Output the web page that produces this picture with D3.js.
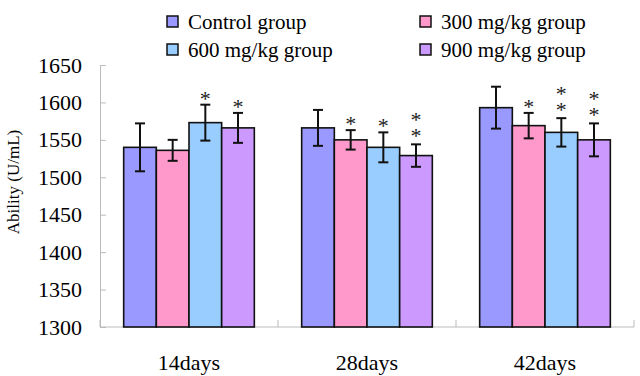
<!DOCTYPE html>
<html>
<head>
<meta charset="utf-8">
<script src="https://cdn.jsdelivr.net/npm/d3@7"></script>
<style>
  body { margin: 0; background: #fff; }
</style>
</head>
<body>
<div id="chart"></div>
<script>
// data
var days = ["14days", "28days", "42days"];
var groups = ["Control group", "300 mg/kg group", "600 mg/kg group", "900 mg/kg group"];
var colors = ["#9999ff", "#ff99cc", "#99ccff", "#cc99ff"];
var means = [
    [1540, 1536, 1573, 1566],
    [1566, 1550, 1540, 1529],
    [1593, 1569, 1560, 1550]
];
var errs = [
    [32, 14, 24, 20],
    [24, 13, 20, 15],
    [28, 17, 19, 22]
];
// number of asterisks above each bar
var stars = [
    [0, 0, 1, 1],
    [0, 1, 1, 2],
    [0, 1, 2, 2]
];
var yTicks = [1300, 1350, 1400, 1450, 1500, 1550, 1600, 1650];

var svgWidth = 640;
var svgHeight = 376;
var margin = { top: 65, right: 6, bottom: 49, left: 100 };
var width = svgWidth - margin.left - margin.right;
var height = svgHeight - margin.top - margin.bottom;
var serif = "\"Liberation Serif\"";

var svg = d3.select("#chart")
    .append("svg")
    .attr("width", svgWidth)
    .attr("height", svgHeight);

var chartGroup = svg.append("g")
    .attr("transform", `translate(${margin.left}, ${margin.top})`);

// scales
var x0 = d3.scaleBand().domain(days).range([0, width]);
var x1 = d3.scaleBand().domain(groups)
    .range([x0.bandwidth() * 0.133, x0.bandwidth() * 0.867]);
var y = d3.scaleLinear().domain([1300, 1650]).range([height, 0]);

// y axis, ticks pointing inward
var leftAxis = d3.axisLeft(y)
    .tickValues(yTicks)
    .tickSizeInner(-6)
    .tickSizeOuter(0)
    .tickPadding(18)
    .tickFormat(d3.format("d"));

var yAxisG = chartGroup.append("g").call(leftAxis);
yAxisG.select(".domain").attr("stroke", "#bbb");
yAxisG.selectAll(".tick line").attr("stroke", "#bbb");
yAxisG.selectAll("text")
    .attr("font-size", "22px")
    .attr("fill", "#000")
    .style("font-family", serif);

// x axis line + category separator ticks
chartGroup.append("line")
    .attr("x1", 0).attr("x2", width)
    .attr("y1", height).attr("y2", height)
    .attr("stroke", "#bbb");

var bounds = days.map(d => x0(d)).concat([width]);
chartGroup.selectAll(".sep")
    .data(bounds)
    .enter()
    .append("line")
    .attr("x1", d => d).attr("x2", d => d)
    .attr("y1", height).attr("y2", height - 7)
    .attr("stroke", "#bbb");

var bottomAxis = d3.axisBottom(x0).tickSize(0).tickPadding(27);
var xAxisG = chartGroup.append("g")
    .attr("transform", `translate(0, ${height})`)
    .call(bottomAxis);
xAxisG.select(".domain").remove();
xAxisG.selectAll("text")
    .attr("font-size", "22px")
    .attr("fill", "#000")
    .style("font-family", serif);

// flatten data for drawing
var rows = [];
days.forEach(function(day, i) {
    groups.forEach(function(g, j) {
        rows.push({ day: day, group: g, j: j, v: means[i][j], e: errs[i][j], s: stars[i][j] });
    });
});

// bars
chartGroup.selectAll(".bar")
    .data(rows)
    .enter()
    .append("rect")
    .attr("x", d => x0(d.day) + x1(d.group))
    .attr("y", d => y(d.v))
    .attr("width", x1.bandwidth())
    .attr("height", d => height - y(d.v))
    .attr("fill", d => colors[d.j])
    .attr("stroke", "#111")
    .attr("stroke-width", 1.6);

// error bars
var cx = d => x0(d.day) + x1(d.group) + x1.bandwidth() / 2;
var errG = chartGroup.selectAll(".err")
    .data(rows)
    .enter()
    .append("g")
    .attr("stroke", "#111")
    .attr("stroke-width", 2);

errG.append("line")
    .attr("x1", cx).attr("x2", cx)
    .attr("y1", d => y(d.v + d.e)).attr("y2", d => y(d.v - d.e));
errG.append("line")
    .attr("x1", d => cx(d) - 5).attr("x2", d => cx(d) + 5)
    .attr("y1", d => y(d.v + d.e)).attr("y2", d => y(d.v + d.e));
errG.append("line")
    .attr("x1", d => cx(d) - 5).attr("x2", d => cx(d) + 5)
    .attr("y1", d => y(d.v - d.e)).attr("y2", d => y(d.v - d.e));

// asterisks: one text per bar, stacked with tspans
var starText = chartGroup.selectAll(".star")
    .data(rows.filter(d => d.s > 0))
    .enter()
    .append("text")
    .attr("text-anchor", "middle")
    .attr("font-size", "22px")
    .attr("fill", "#222")
    .style("font-family", serif);

starText.each(function(d) {
    var t = d3.select(this);
    var base = y(d.v + d.e) + (d.s > 1 ? -1 : 1);
    for (var k = 0; k < d.s; k++) {
        t.append("tspan")
            .attr("x", cx(d))
            .attr("y", base - (d.s - 1 - k) * 16)
            .text("*");
    }
});

// y axis label
svg.append("text")
    .attr("transform", "translate(19, 182) rotate(-90)")
    .attr("text-anchor", "middle")
    .attr("font-size", "17px")
    .style("font-family", serif)
    .text("Ability (U/mL)");

// legend
var legend = svg.selectAll(".legend")
    .data(groups)
    .enter()
    .append("g")
    .attr("transform", (d, i) => `translate(${i % 2 === 0 ? 167 : 420}, ${i < 2 ? 16 : 44})`);

legend.append("rect")
    .attr("width", 11)
    .attr("height", 11)
    .attr("fill", (d, i) => colors[i])
    .attr("stroke", "#111")
    .attr("stroke-width", 1.5);

legend.append("text")
    .attr("x", 21)
    .attr("y", 13)
    .attr("font-size", "21px")
    .style("font-family", serif)
    .text(d => d);
</script>
</body>
</html>
